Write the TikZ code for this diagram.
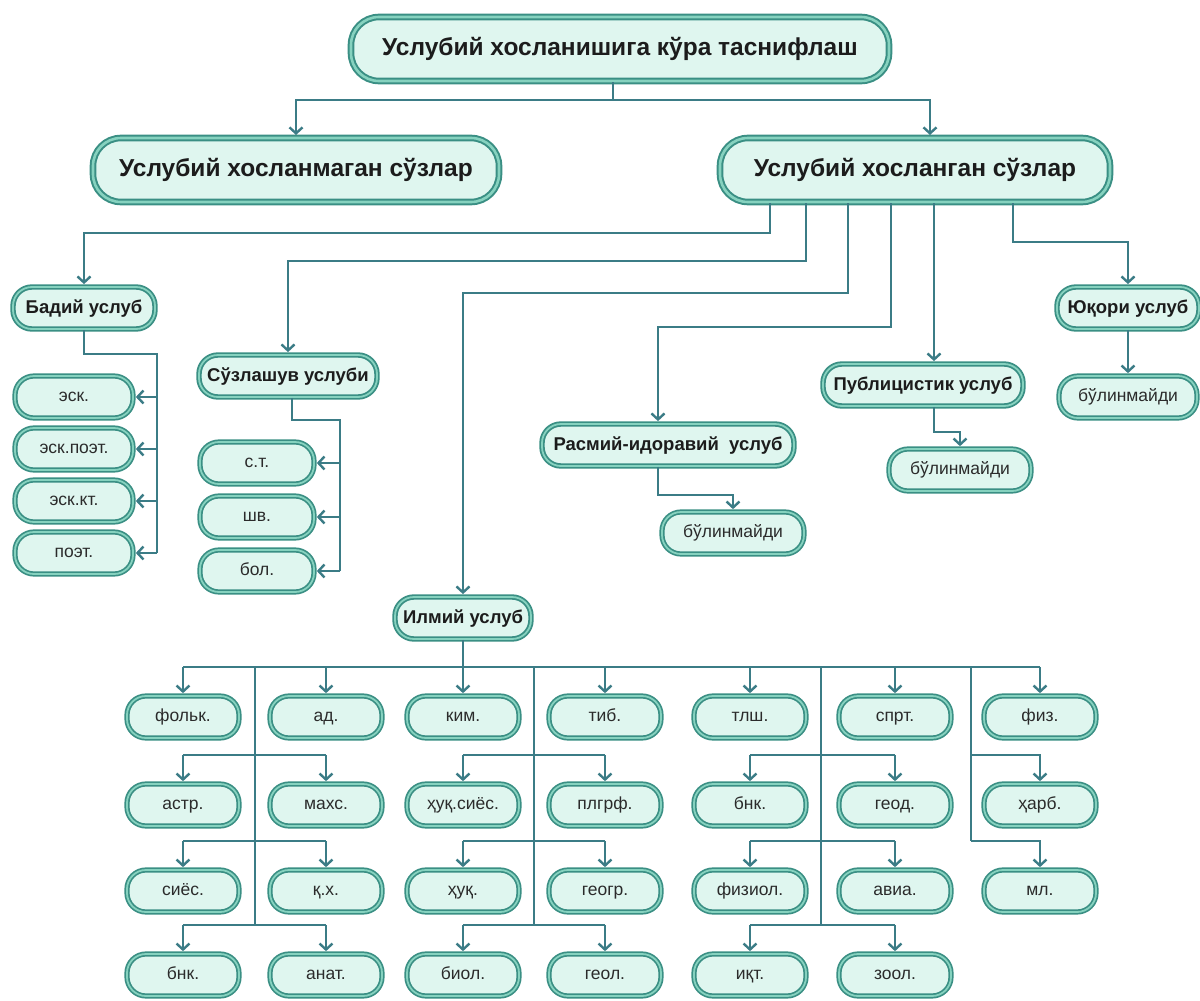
\documentclass[tikz,border=0pt]{standalone}
\usepackage{fontspec}
\setmainfont{Liberation Sans}
\usetikzlibrary{arrows.meta}
\definecolor{bfill}{HTML}{DFF6EF}
\definecolor{bdark}{HTML}{3A8F84}
\definecolor{blight}{HTML}{86D2BF}
\definecolor{lcol}{HTML}{3B7C86}
\definecolor{tcol}{HTML}{1C1C1C}
\definecolor{tleaf}{HTML}{2B2B2B}
\begin{document}
\begin{tikzpicture}[x=1pt,y=-1pt,
 every node/.style={text=tcol},
 bigbox/.style={draw=bdark, double=blight, double distance=2.6pt, line width=2pt, fill=bfill, rounded corners=28pt, minimum height=64pt, inner sep=0pt, text height=15pt, text depth=3pt, font=\fontsize{24.5}{28}\selectfont\bfseries},
 midbox/.style={draw=bdark, double=blight, double distance=1.8pt, line width=1.8pt, fill=bfill, rounded corners=19pt, minimum height=42pt, inner sep=0pt, text height=12pt, text depth=2pt, font=\fontsize{18.5}{22}\selectfont\bfseries},
 leaf/.style={draw=bdark, double=blight, double distance=1.8pt, line width=1.7pt, fill=bfill, rounded corners=19pt, minimum height=42pt, minimum width=112pt, inner sep=0pt, text=tleaf, text height=9pt, text depth=0pt, font=\fontsize{17.5}{20}\selectfont},
 conn/.style={draw=lcol, line width=2.6pt},
 arr/.style={conn, shorten >=2pt, -{Straight Barb[length=6pt,width=13pt,line width=2.4pt]}},
]
\fill[white] (0,0) rectangle (1200,1001);
\useasboundingbox (0,0) rectangle (1200,1001);

% top levels
\node[bigbox, minimum width=538pt] (title) at (620,49) {Услубий хосланишига кўра таснифлаш};
\node[bigbox, minimum width=406pt] (lft) at (296,170) {Услубий хосланмаган сўзлар};
\node[bigbox, minimum width=390pt] (rgt) at (915,170) {Услубий хосланган сўзлар};

% styles level
\node[midbox, minimum width=142pt] (badiy) at (84,308) {Бадий услуб};
\node[midbox, minimum width=178pt] (suz) at (288,376) {Сўзлашув услуби};
\node[midbox, minimum width=136pt] (ilm) at (463,618) {Илмий услуб};
\node[midbox, minimum width=252pt] (rasm) at (668,445) {Расмий-идоравий\ \ услуб};
\node[midbox, minimum width=200pt] (pub) at (923,385) {Публицистик услуб};
\node[midbox, minimum width=142pt] (yuq) at (1128,308) {Юқори услуб};

\node[leaf, minimum width=142pt] (bul1) at (733,533) {бўлинмайди};
\node[leaf, minimum width=142pt] (bul2) at (960,470) {бўлинмайди};
\node[leaf, minimum width=138pt] (bul3) at (1128,397) {бўлинмайди};

% Badiy children
\node[leaf, minimum width=118pt] (esk) at (74,397) {эск.};
\node[leaf, minimum width=118pt] (eskp) at (74,449) {эск.поэт.};
\node[leaf, minimum width=118pt] (eskkt) at (74,501) {эск.кт.};
\node[leaf, minimum width=118pt] (poet) at (74,553) {поэт.};

% Suzlashuv children
\node[leaf, minimum width=114pt] (st) at (257,463) {с.т.};
\node[leaf, minimum width=114pt] (shv) at (257,517) {шв.};
\node[leaf, minimum width=114pt] (bol) at (257,571) {бол.};

% grid
\node[leaf] (g11) at (183,717) {фольк.};
\node[leaf] (g12) at (326,717) {ад.};
\node[leaf] (g13) at (463,717) {ким.};
\node[leaf] (g14) at (605,717) {тиб.};
\node[leaf] (g15) at (750,717) {тлш.};
\node[leaf] (g16) at (895,717) {спрт.};
\node[leaf] (g17) at (1040,717) {физ.};

\node[leaf] (g21) at (183,805) {астр.};
\node[leaf] (g22) at (326,805) {махс.};
\node[leaf] (g23) at (463,805) {ҳуқ.сиёс.};
\node[leaf] (g24) at (605,805) {плгрф.};
\node[leaf] (g25) at (750,805) {бнк.};
\node[leaf] (g26) at (895,805) {геод.};
\node[leaf] (g27) at (1040,805) {ҳарб.};

\node[leaf] (g31) at (183,891) {сиёс.};
\node[leaf] (g32) at (326,891) {қ.х.};
\node[leaf] (g33) at (463,891) {ҳуқ.};
\node[leaf] (g34) at (605,891) {геогр.};
\node[leaf] (g35) at (750,891) {физиол.};
\node[leaf] (g36) at (895,891) {авиа.};
\node[leaf] (g37) at (1040,891) {мл.};

\node[leaf] (g41) at (183,975) {бнк.};
\node[leaf] (g42) at (326,975) {анат.};
\node[leaf] (g43) at (463,975) {биол.};
\node[leaf] (g44) at (605,975) {геол.};
\node[leaf] (g45) at (750,975) {иқт.};
\node[leaf] (g46) at (895,975) {зоол.};

% connectors: top
\coordinate (tj) at (613,100);
\draw[conn] (title.south -| tj) -- (tj);
\draw[arr] (tj) -| (lft.north);
\draw[arr] (tj) -| (rgt.north -| 930,0);

% from right box
\draw[arr] (rgt.south -| 770,0) -- (770,233) -| (badiy.north);
\draw[arr] (rgt.south -| 806,0) -- (806,261) -| (suz.north);
\draw[arr] (rgt.south -| 848,0) -- (848,293) -| (ilm.north);
\draw[arr] (rgt.south -| 891,0) -- (891,327) -| (rasm.north -| 658,0);
\draw[arr] (rgt.south -| 934,0) -- (pub.north -| 934,0);
\draw[arr] (rgt.south -| 1013,0) -- (1013,242) -| (yuq.north);

% sub-levels
\draw[arr] (rasm.south -| 658,0) -- (658,495) -| (bul1.north);
\draw[arr] (pub.south -| 934,0) -- (934,432) -| (bul2.north);
\draw[arr] (yuq.south) -- (bul3.north);

% Badiy
\draw[conn] (badiy.south) -- (84,354) -- (157,354) -- (157,0 |- poet.east);
\foreach \n in {esk,eskp,eskkt,poet} \draw[arr] (157,0 |- \n.east) -- (\n.east);

% Suzlashuv
\draw[conn] (suz.south -| 292,0) -- (292,420) -- (340,420) -- (340,0 |- bol.east);
\foreach \n in {st,shv,bol} \draw[arr] (340,0 |- \n.east) -- (\n.east);

% Ilmiy grid
\draw[conn] (ilm.south) -- (ilm.south |- 0,667);
\draw[conn] (g11.north |- 0,667) -- (g17.north |- 0,667);
\foreach \n in {g11,g12,g13,g14,g15,g16,g17} \draw[arr] (\n.north |- 0,667) -- (\n.north);
\draw[conn] (255,667) -- (255,925);
\draw[conn] (534,667) -- (534,925);
\draw[conn] (821,667) -- (821,925);
\draw[conn] (971,667) -- (971,841);
\foreach \a/\b/\h in {g21/g22/755,g31/g32/841,g41/g42/925,g23/g24/755,g33/g34/841,g43/g44/925,g25/g26/755,g35/g36/841,g45/g46/925}{
  \draw[conn] (\a.north |- 0,\h) -- (\b.north |- 0,\h);
  \draw[arr] (\a.north |- 0,\h) -- (\a.north);
  \draw[arr] (\b.north |- 0,\h) -- (\b.north);
}
\draw[arr] (971,755) -| (g27.north);
\draw[arr] (971,841) -| (g37.north);
\end{tikzpicture}
\end{document}
